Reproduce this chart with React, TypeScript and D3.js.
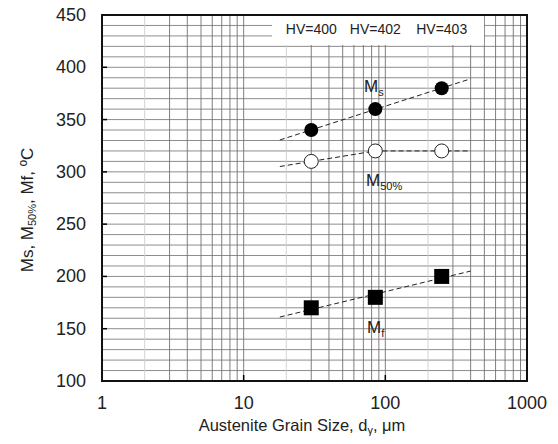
import React from 'react';
import * as d3 from 'd3';

const width = 558;
const height = 444;
const margin = { top: 15, right: 31, bottom: 63, left: 102 };

// grain sizes (um) and hardness labels
const grainSize = [30, 85, 250];
const hvLabels = ['HV=400', 'HV=402', 'HV=403'];
// transformation temperatures (C)
const msValues = [340, 360, 380];
const m50Values = [310, 320, 320];
const mfValues = [170, 180, 200];

const xTicks = [1, 10, 100, 1000];
const yTicks = [100, 150, 200, 250, 300, 350, 400, 450];
const fitRange = [18, 400];

function fitLine(xs: number[], ys: number[]) {
  const lx = xs.map(Math.log10);
  const mx = d3.mean(lx) as number;
  const my = d3.mean(ys) as number;
  const sxy = d3.sum(lx, (v, i) => (v - mx) * (ys[i] - my));
  const sxx = d3.sum(lx, (v) => (v - mx) * (v - mx));
  const b = sxy / sxx;
  return (x: number) => my + b * (Math.log10(x) - mx);
}

export default function App() {
  const x = d3.scaleLog().domain([1, 1000]).range([margin.left, width - margin.right]);
  const y = d3.scaleLinear().domain([100, 450]).range([height - margin.bottom, margin.top]);
  const x0 = margin.left;
  const x1 = width - margin.right;
  const y0 = height - margin.bottom;
  const y1 = margin.top;

  const minorX: number[] = [];
  for (let p = 0; p < 3; p++) {
    for (let k = 1; k <= 9; k++) minorX.push(k * 10 ** p);
  }
  const minorY = d3.range(110, 450, 10);

  const line = d3.line<[number, number]>().x((d) => x(d[0])).y((d) => y(d[1]));
  const msFit = fitLine(grainSize, msValues);
  const mfFit = fitLine(grainSize, mfValues);
  const msLine: [number, number][] = fitRange.map((v) => [v, msFit(v)]);
  const mfLine: [number, number][] = fitRange.map((v) => [v, mfFit(v)]);
  // M50 follows first two points, then flat
  const slope50 = (m50Values[1] - m50Values[0]) / (Math.log10(grainSize[1]) - Math.log10(grainSize[0]));
  const m50Line: [number, number][] = [
    [fitRange[0], m50Values[0] + slope50 * (Math.log10(fitRange[0]) - Math.log10(grainSize[0]))],
    [grainSize[1], m50Values[1]],
    [fitRange[1], m50Values[2]],
  ];

  const font = 'Liberation Sans, Arial, sans-serif';

  return (
    <svg width={width} height={height} style={{ position: 'absolute', left: 0, top: 0, background: '#fff' }} fontFamily={font}>
      <rect x={0} y={0} width={width} height={height} fill="#fff" />
      {/* grid */}
      {minorY.map((v) => (
        <line key={`gy${v}`} x1={x0} x2={x1} y1={y(v)} y2={y(v)} stroke="#808080" strokeWidth={0.9} />
      ))}
      {minorX.filter((v) => v > 1).map((v) => (
        <line
          key={`gx${v}`}
          x1={x(v)}
          x2={x(v)}
          y1={y0}
          y2={y1}
          stroke={String(v)[0] === '2' ? '#cfcfcf' : '#707070'}
          strokeWidth={0.9}
        />
      ))}
      {/* legend box */}
      <rect x={272} y={y1 + 1} width={212} height={29} fill="#fff" />
      {hvLabels.map((t, i) => (
        <text key={t} x={x(grainSize[i])} y={34} fontSize={14} textAnchor="middle" fill="#222">
          {t}
        </text>
      ))}
      {/* fit lines */}
      <path d={line(msLine) || ''} fill="none" stroke="#222" strokeWidth={1} strokeDasharray="5,3" />
      <path d={line(m50Line) || ''} fill="none" stroke="#222" strokeWidth={1} strokeDasharray="5,3" />
      <path d={line(mfLine) || ''} fill="none" stroke="#222" strokeWidth={1} strokeDasharray="5,3" />
      {/* markers */}
      {grainSize.map((g, i) => (
        <circle key={`ms${i}`} cx={x(g)} cy={y(msValues[i])} r={7} fill="#000" />
      ))}
      {grainSize.map((g, i) => (
        <circle key={`m50${i}`} cx={x(g)} cy={y(m50Values[i])} r={7} fill="#fff" stroke="#222" strokeWidth={1} />
      ))}
      {grainSize.map((g, i) => (
        <rect key={`mf${i}`} x={x(g) - 7.5} y={y(mfValues[i]) - 7.5} width={15} height={15} fill="#000" />
      ))}
      {/* series labels */}
      <text x={364} y={92} fontSize={17} fill="#222">
        M<tspan fontSize={11} dy={4}>s</tspan>
      </text>
      <text x={366} y={186} fontSize={17} fill="#222">
        M<tspan fontSize={11} dy={4}>50%</tspan>
      </text>
      <text x={367} y={333} fontSize={17} fill="#222">
        M<tspan fontSize={11} dy={4}>f</tspan>
      </text>
      {/* ticks */}
      {yTicks.slice(1, -1).map((v) => (
        <line key={`ty${v}`} x1={x0} x2={x0 + 5} y1={y(v)} y2={y(v)} stroke="#000" strokeWidth={1.5} />
      ))}
      {xTicks.slice(1, -1).map((v) => (
        <line key={`tx${v}`} x1={x(v)} x2={x(v)} y1={y0} y2={y0 - 6} stroke="#000" strokeWidth={1.5} />
      ))}
      {/* frame */}
      <rect x={x0} y={y1} width={x1 - x0} height={y0 - y1} fill="none" stroke="#111" strokeWidth={2} />
      {/* tick labels */}
      {yTicks.map((v) => (
        <text key={`ly${v}`} x={86} y={y(v) + 6} fontSize={18} textAnchor="end" fill="#222">
          {v}
        </text>
      ))}
      {xTicks.map((v) => (
        <text key={`lx${v}`} x={x(v)} y={409} fontSize={18} textAnchor="middle" fill="#222">
          {v}
        </text>
      ))}
      {/* axis titles */}
      <text x={302} y={431} fontSize={16.5} textAnchor="middle" fill="#222">
        Austenite Grain Size, d<tspan fontSize={11} dy={3}>γ</tspan>
        <tspan dy={-3}>, μm</tspan>
      </text>
      <text transform="translate(33,210) rotate(-90)" fontSize={17} textAnchor="middle" fill="#222">
        Ms, M<tspan fontSize={11} dy={3}>50%</tspan>
        <tspan dy={-3}>, Mf, ºC</tspan>
      </text>
    </svg>
  );
}
